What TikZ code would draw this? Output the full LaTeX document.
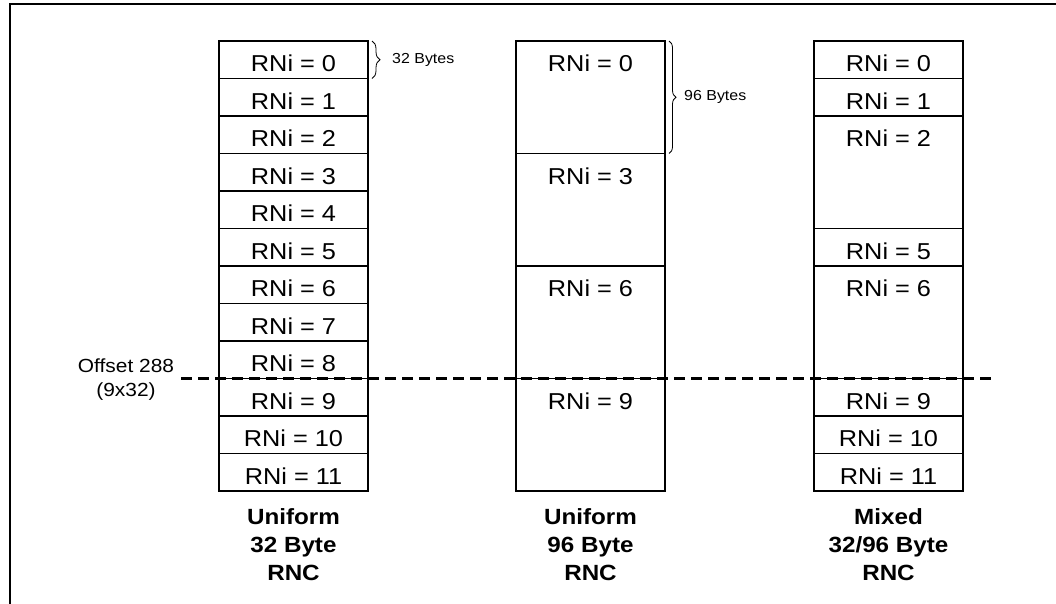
\documentclass[tikz,border=0pt]{standalone}
\usepackage{fontspec}
\setmainfont[FakeStretch=1.1]{Liberation Sans}
\usetikzlibrary{calc,decorations.pathreplacing}
\tikzset{
  cellbox/.style={draw=black, line width=1.2pt, minimum width=149pt, inner sep=0pt, outer sep=0pt, anchor=north west},
  rni/.style={font=\fontsize{23}{26}\selectfont, inner sep=0pt, anchor=base},
  small/.style={font=\fontsize{14.5}{17}\selectfont, inner sep=0pt, anchor=west},
  caption/.style={font=\fontsize{22}{28}\selectfont\bfseries, align=center, inner sep=0pt, anchor=north},
  offs/.style={font=\fontsize{19}{24}\selectfont, align=center, inner sep=0pt, anchor=north},
  bytebrace/.style={decorate, decoration={brace, amplitude=#1}, line width=0.8pt},
  offline/.style={line width=2.5pt, dash pattern=on 11pt off 6pt},
  frameline/.style={line width=2pt}
}
\newcommand\rncell[5]{%
  \node[cellbox, minimum height=#4*37.5pt] (#1) at (#2, 41+#3*37.5) {};
  \node[rni] (#1t) at ($(#1.north)+(0,30.5)$) {RNi = #5};
}
\begin{document}
\begin{tikzpicture}[x=1pt,y=-1pt]
\useasboundingbox (0,0) rectangle (1056,603);
\coordinate (fbl) at (10,610);
\coordinate (ftl) at (10,4);
\coordinate (ftr) at (1060,4);
\draw[frameline] (fbl) -- (ftl) -- (ftr);
% column 1: uniform 32 byte
\foreach \i in {0,...,11}{\rncell{a\i}{219}{\i}{1}{\i}}
% column 2: uniform 96 byte
\rncell{b0}{516}{0}{3}{0}
\rncell{b3}{516}{3}{3}{3}
\rncell{b6}{516}{6}{3}{6}
\rncell{b9}{516}{9}{3}{9}
% column 3: mixed
\rncell{c0}{814}{0}{1}{0}
\rncell{c1}{814}{1}{1}{1}
\rncell{c2}{814}{2}{3}{2}
\rncell{c5}{814}{5}{1}{5}
\rncell{c6}{814}{6}{3}{6}
\rncell{c9}{814}{9}{1}{9}
\rncell{c10}{814}{10}{1}{10}
\rncell{c11}{814}{11}{1}{11}
% braces
\coordinate (br1a) at ($(a0.north east)+(4,0)$);
\coordinate (br1b) at ($(a0.south east)+(4,0)$);
\draw[bytebrace=8pt] (br1a) -- (br1b);
\node[small] (t32) at ($(br1a)!0.5!(br1b)+(20,0)$) {32 Bytes};
\coordinate (br2a) at ($(b0.north east)+(4,0)$);
\coordinate (br2b) at ($(b0.south east)+(4,0)$);
\draw[bytebrace=7pt] (br2a) -- (br2b);
\node[small] (t96) at ($(br2a)!0.5!(br2b)+(15,0)$) {96 Bytes};
% offset line
\coordinate (dl) at (181,378.5);
\coordinate (dr) at (996,378.5);
\draw[offline] (dl) -- (dr);
\node[offs] (off) at (126,358.5) {Offset 288\\(9x32)};
% captions
\node[caption] (cap1) at (293.5,508) {Uniform\\32 Byte\\RNC};
\node[caption] (cap2) at (590.5,508) {Uniform\\96 Byte\\RNC};
\node[caption] (cap3) at (888.5,508) {Mixed\\32/96 Byte\\RNC};
\end{tikzpicture}
\end{document}
